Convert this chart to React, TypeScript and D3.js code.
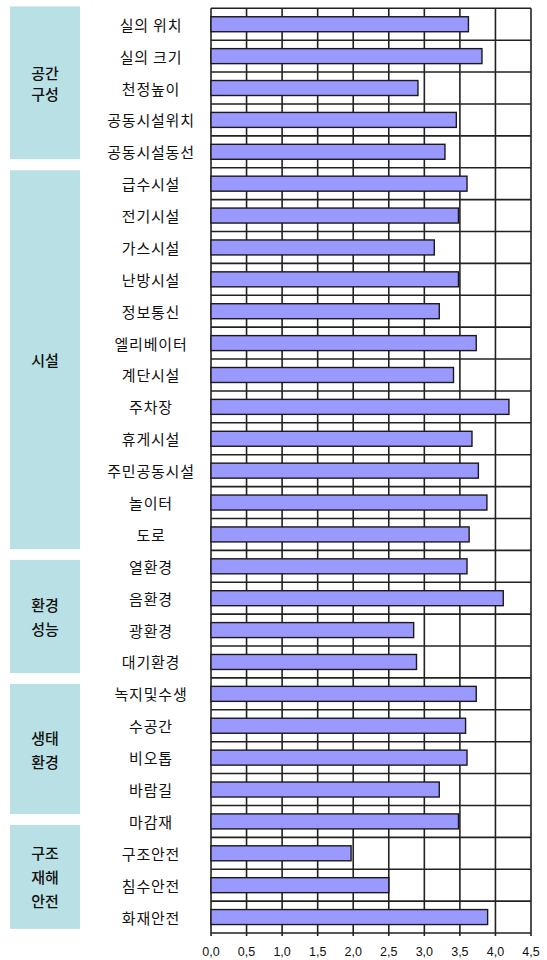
import React from "react";
import * as d3 from "d3";

const categories = [
  "실의 위치", "실의 크기", "천정높이", "공동시설위치", "공동시설동선",
  "급수시설", "전기시설", "가스시설", "난방시설", "정보통신", "엘리베이터", "계단시설",
  "주차장", "휴게시설", "주민공동시설", "놀이터", "도로",
  "열환경", "음환경", "광환경", "대기환경",
  "녹지및수생", "수공간", "비오톱", "바람길",
  "마감재", "구조안전", "침수안전", "화재안전",
];

const values = [
  3.62, 3.81, 2.91, 3.45, 3.29,
  3.60, 3.48, 3.14, 3.48, 3.21, 3.73, 3.41,
  4.19, 3.67, 3.76, 3.88, 3.63,
  3.60, 4.11, 2.85, 2.89,
  3.73, 3.58, 3.60, 3.21,
  3.48, 1.97, 2.50, 3.89,
];

const groupLabels = [["공간", "구성"], ["시설"], ["환경", "성능"], ["생태", "환경"], ["구조", "재해", "안전"]];
// box extents in row units (category bands)
const groupRowStart = [-0.06, 5.08, 17.3, 21.19, 25.61];
const groupRowEnd = [4.73, 16.96, 20.85, 25.27, 28.87];
const groupLineGap = [21, 24, 24, 24, 24];

const xTicks = [0, 0.5, 1, 1.5, 2, 2.5, 3, 3.5, 4, 4.5];

const W = 547;
const H = 960;
const left = 211;
const right = 531;
const top = 8.3;
const bottom = 933;

export default function App() {
  const x = d3.scaleLinear().domain([0, 4.5]).range([left, right]);
  const y = d3.scaleBand<string>().domain(categories).range([top, bottom]).padding(0);
  const step = y.step();
  const barH = step * 0.47;
  const rowY = (r: number) => top + r * step;
  const fmt = (v: number) => d3.format(".1f")(v).replace(".", ",");
  const gridColor = "#222";
  const labelFont = "'Noto Sans CJK KR', 'Noto Sans', sans-serif";

  return (
    <svg width={W} height={H} style={{ position: "absolute", left: 0, top: 0, background: "#fff" }}>
      {/* group boxes */}
      {groupLabels.map((lines, i) => {
        const y0 = rowY(groupRowStart[i]);
        const y1 = rowY(groupRowEnd[i]);
        const cy = (y0 + y1) / 2;
        const gap = groupLineGap[i];
        return (
          <g key={i}>
            <rect x={10} y={y0} width={70} height={y1 - y0} fill="#b9e0e4" />
            {lines.map((t, j) => (
              <text
                key={j}
                x={45}
                y={cy + (j - (lines.length - 1) / 2) * gap}
                textAnchor="middle"
                dominantBaseline="central"
                fontFamily={labelFont}
                fontSize={15}
                fontWeight={500}
                fill="#111"
              >
                {t}
              </text>
            ))}
          </g>
        );
      })}

      {/* horizontal gridlines at category boundaries */}
      {d3.range(categories.length + 1).map((k) => (
        <line key={"h" + k} x1={left} x2={right} y1={rowY(k)} y2={rowY(k)} stroke={gridColor} strokeWidth={1.6} />
      ))}
      {/* vertical gridlines */}
      {xTicks.map((t) => (
        <line key={"v" + t} x1={x(t)} x2={x(t)} y1={top} y2={bottom + 3} stroke={gridColor} strokeWidth={1.6} />
      ))}

      {/* bars */}
      {categories.map((c, i) => {
        const yc = (y(c) as number) + step / 2;
        return (
          <rect
            key={c}
            x={x(0)}
            y={yc - barH / 2}
            width={x(values[i]) - x(0)}
            height={barH}
            fill="#9999ff"
            stroke="#1a1a1a"
            strokeWidth={1.4}
          />
        );
      })}

      {/* category labels */}
      {categories.map((c) => (
        <text
          key={"l" + c}
          x={151}
          y={(y(c) as number) + step / 2}
          textAnchor="middle"
          dominantBaseline="central"
          fontFamily={labelFont}
          fontSize={15}
          letterSpacing={0.8}
          fill="#111"
        >
          {c}
        </text>
      ))}

      {/* x tick labels */}
      {xTicks.map((t) => (
        <text
          key={"t" + t}
          x={x(t)}
          y={956}
          textAnchor="middle"
          fontFamily="'Liberation Sans', Arial, sans-serif"
          fontSize={12.5}
          fill="#111"
        >
          {fmt(t)}
        </text>
      ))}
    </svg>
  );
}
